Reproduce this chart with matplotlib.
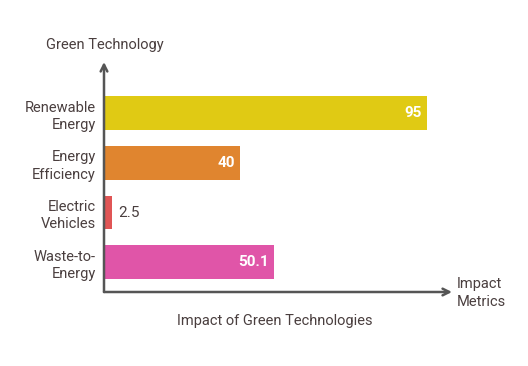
import matplotlib.pyplot as plt

plt.rcParams["font.family"] = ["Roboto", "DejaVu Sans"]

categories = ["Waste-to-\nEnergy", "Electric\nVehicles", "Energy\nEfficiency", "Renewable\nEnergy"]
values = [50.1, 2.5, 40, 95]
labels = ["50.1", "2.5", "40", "95"]
colors = ["#E055A8", "#E05555", "#E0852F", "#E0CA14"]

TEXT = "#4a3f3f"
AXIS = "#555555"

fig = plt.figure(figsize=(5.28, 3.66), dpi=100)
ax = fig.add_axes([104 / 528, 74 / 366, 348 / 528, 230 / 366])

pos = list(range(len(values)))
ax.barh(pos, values, height=0.68, color=colors)
ax.set_xlim(0, 102.4)
ax.set_ylim(-0.6, 4.03)

for y, v, lab in zip(pos, values, labels):
    if v > 10:
        ax.text(v - 1.5, y, lab, ha="right", va="center", color="white",
                fontsize=11, fontweight="bold")
    else:
        ax.text(v + 1.8, y, lab, ha="left", va="center", color=TEXT, fontsize=11)

ax.set_yticks(pos)
ax.set_yticklabels(categories, color=TEXT, fontsize=10.5, linespacing=1.3)
ax.tick_params(axis="y", length=0, pad=6)
ax.set_xticks([])
for s in ax.spines.values():
    s.set_visible(False)

# axis arrows
ax.annotate("", xy=(0, 1.0), xytext=(0, 0), xycoords="axes fraction",
            arrowprops=dict(arrowstyle="->", color=AXIS, lw=1.8, mutation_scale=12,
                            shrinkA=0, shrinkB=0))
ax.annotate("", xy=(1.0, 0), xytext=(0, 0), xycoords="axes fraction",
            arrowprops=dict(arrowstyle="->", color=AXIS, lw=1.8, mutation_scale=12,
                            shrinkA=0, shrinkB=0))

fig.text(105 / 528, 1 - 45 / 366, "Green Technology", ha="center", va="center",
         color=TEXT, fontsize=10.5)
fig.text(457 / 528, 1 - 293 / 366, "Impact\nMetrics", ha="left", va="center",
         color=TEXT, fontsize=10.5, linespacing=1.3)
fig.text(275 / 528, 1 - 321 / 366, "Impact of Green Technologies", ha="center",
         va="center", color=TEXT, fontsize=10.5)

fig.savefig("out.png", dpi=100)
